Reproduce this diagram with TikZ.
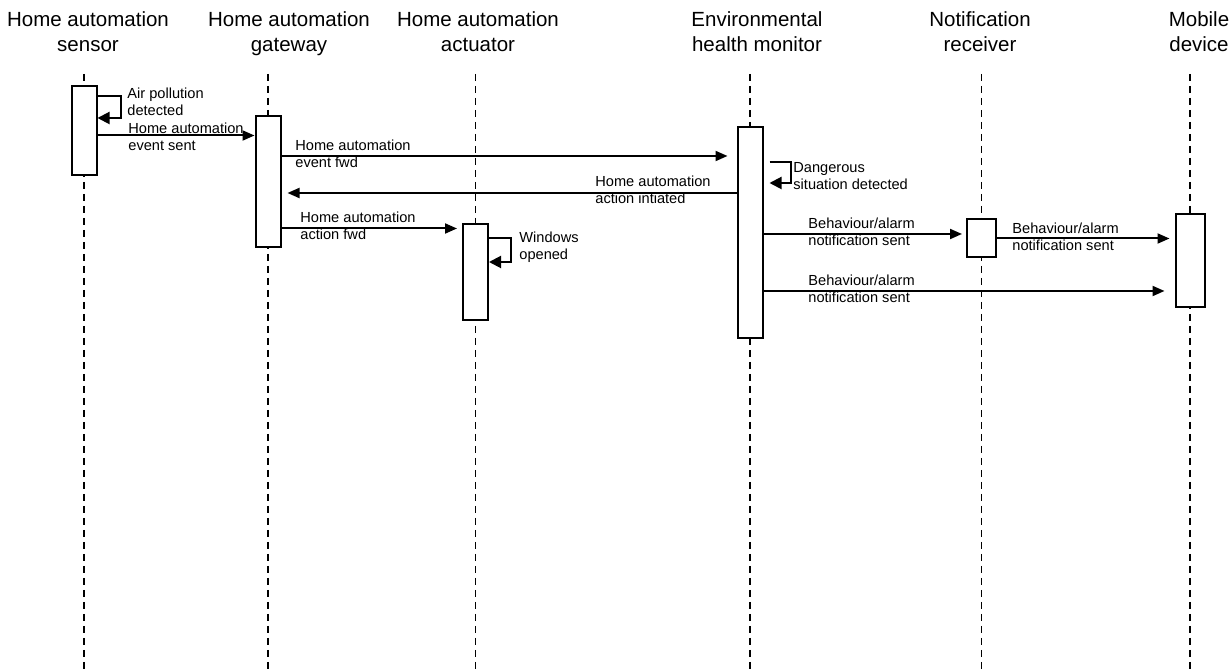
\documentclass[tikz,border=0pt]{standalone}
\usepackage{fontspec}
\setmainfont{Liberation Sans}
\usetikzlibrary{arrows.meta}

\begin{document}
\begin{tikzpicture}[x=0.5pt, y=-0.5pt,
  head/.style={align=center, font=\fontsize{10.25}{12.5}\selectfont, inner sep=0pt, anchor=base},
  lifeline/.style={dash pattern=on 3.5pt off 2.5pt, line width=0.8pt},
  actbox/.style={draw, fill=white, line width=1pt, minimum width=12.5pt, inner sep=0pt, anchor=north},
  msg/.style={-{Triangle[length=6pt, width=5pt]}, line width=1pt},
  selfmsg/.style={-{Triangle[length=6pt, width=6pt]}, line width=1pt},
  lab/.style={align=left, font=\fontsize{7.3}{8.5}\selectfont, inner sep=0pt, anchor=base west}
]
\useasboundingbox (0,0) rectangle (1231,672);

% ---------- Participants ----------
\node[head] (sensorhead)  at (88,52)   {Home automation\\sensor};
\node[head] (gatewayhead) at (289,52)  {Home automation\\gateway};
\node[head] (actorhead)   at (478,52)  {Home automation\\actuator};
\node[head] (monitorhead) at (757,52)  {Environmental\\health monitor};
\node[head] (notifhead)   at (980,52)  {Notification\\receiver};
\node[head] (mobilehead)  at (1199,52) {Mobile\\device};

% ---------- Lifelines ----------
\coordinate (sensor)  at (84,74);
\coordinate (gateway) at (268,74);
\coordinate (actor)   at (475.5,74);
\coordinate (monitor) at (750,74);
\coordinate (notif)   at (981.5,74);
\coordinate (mobile)  at (1190,74);
\foreach \p in {sensor,gateway,actor,monitor,notif,mobile}
  \draw[lifeline] (\p) -- (\p |- 0,672);

% ---------- Activation boxes ----------
\node[actbox, minimum height=44.5pt] (sensorbox)  at (sensor |- 0,85)   {};
\node[actbox, minimum height=65.5pt] (gatewaybox) at (gateway |- 0,115) {};
\node[actbox, minimum height=48pt]   (actorbox)   at (actor |- 0,223)   {};
\node[actbox, minimum height=105.5pt] (monitorbox) at (monitor |- 0,126) {};
\node[actbox, minimum height=19pt, minimum width=14.5pt] (notifbox)  at (notif |- 0,218)  {};
\node[actbox, minimum height=46.5pt, minimum width=14.5pt] (mobilebox) at (mobile |- 0,213) {};

% ---------- Messages ----------
% air pollution
\draw[selfmsg] (sensorbox.east |- 0,96) -- ++(23,0) |- (sensorbox.east |- 0,118);
\node[lab] at (127,116) {Air pollution\\detected};
\draw[msg] (sensorbox.east |- 0,135.5) -- (gatewaybox.west |- 0,135.5);
\node[lab] at (128,151) {Home automation\\event sent};

% forwarded to the monitor
\draw[msg, shorten >=4.5pt] (gatewaybox.east |- 0,156) -- (monitorbox.west |- 0,156);
\node[lab] at (295,168) {Home automation\\event fwd};
\draw[selfmsg] ([xshift=3pt]monitorbox.east |- 0,162) -- ++(21,0) |- ([xshift=3pt]monitorbox.east |- 0,183);
\node[lab] at (793,190) {Dangerous\\situation detected};
\draw[msg, shorten >=3pt] (monitorbox.west |- 0,193) -- (gatewaybox.east |- 0,193);
\node[lab] at (595,204) {Home automation\\action intiated};

% action on the windows
\draw[msg, shorten >=2.5pt] (gatewaybox.east |- 0,228.5) -- (actorbox.west |- 0,228.5);
\node[lab] at (300,240) {Home automation\\action fwd};
\draw[selfmsg] (actorbox.east |- 0,238) -- ++(22,0) |- (actorbox.east |- 0,262);
\node[lab] at (519,260) {Windows\\opened};

% notifications
\draw[msg, shorten >=2pt] (monitorbox.east |- 0,234) -- (notifbox.west |- 0,234);
\node[lab] at (808,246) {Behaviour/alarm\\notification sent};
\draw[msg, shorten >=2.5pt] (notifbox.east |- 0,238.5) -- (mobilebox.west |- 0,238.5);
\node[lab] at (1012,251) {Behaviour/alarm\\notification sent};
\draw[msg, shorten >=5pt] (monitorbox.east |- 0,291) -- (mobilebox.west |- 0,291);
\node[lab] at (808,303) {Behaviour/alarm\\notification sent};

\end{tikzpicture}
\end{document}
